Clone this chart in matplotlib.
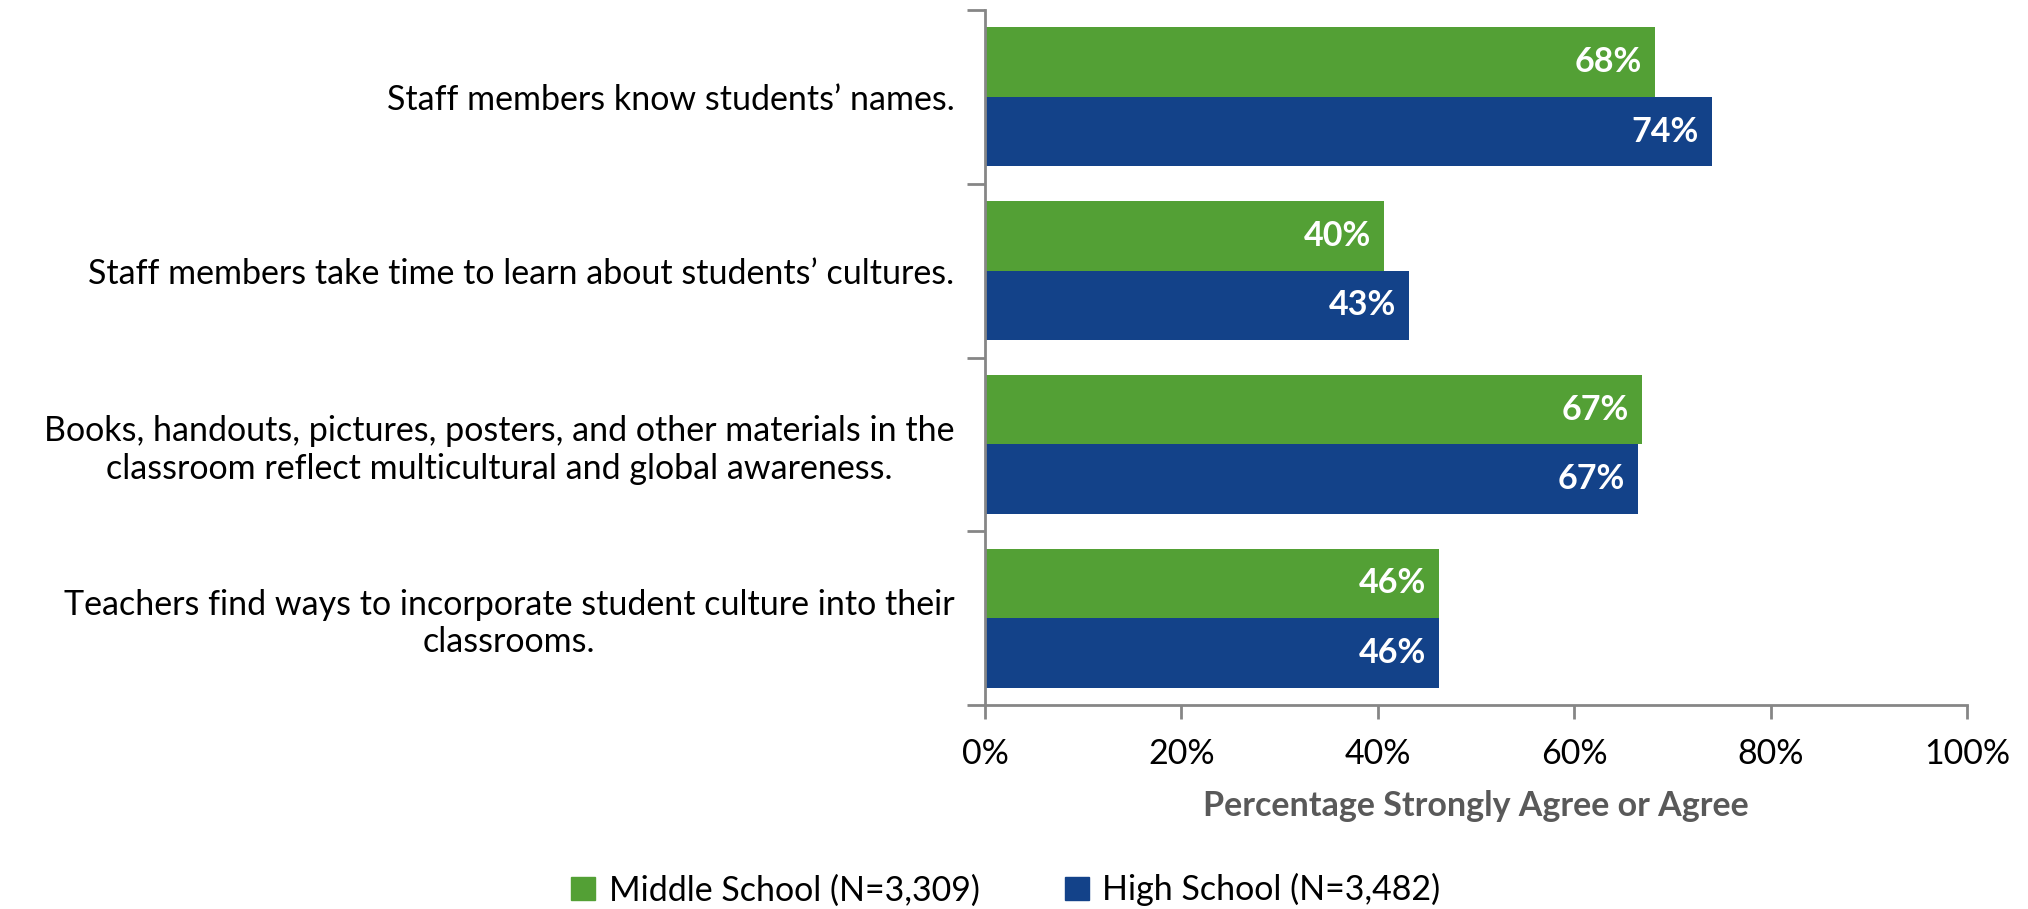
import matplotlib.pyplot as plt
from matplotlib import font_manager
from matplotlib.patches import Patch

names = {f.name for f in font_manager.fontManager.ttflist}
font = 'Liberation Sans Narrow' if 'Liberation Sans Narrow' in names else 'Lato'
plt.rcParams['font.family'] = [font, 'DejaVu Sans']

categories = [
    "Staff members know students\u2019 names.",
    "Staff members take time to learn about students\u2019 cultures.",
    "Books, handouts, pictures, posters, and other materials in the\nclassroom reflect multicultural and global awareness.",
    "Teachers find ways to incorporate student culture into their\nclassrooms.",
]
middle = [68.2, 40.6, 66.9, 46.2]
high = [74.0, 43.2, 66.5, 46.2]
middle_labels = [68, 40, 67, 46]
high_labels = [74, 43, 67, 46]
series_names = ["Middle School (N=3,309)", "High School (N=3,482)"]
green = '#53a035'
blue = '#134289'
axis_gray = '#868686'
fs = 24.5

fig = plt.figure(figsize=(20.28, 9.09), dpi=100)
ax = fig.add_axes([0.4857, 0.2244, 0.4843, 0.7646])

n = len(categories)
ypos = list(range(n))
h = 0.4
ax.barh([y - h / 2 for y in ypos], middle, height=h, color=green, edgecolor='none')
ax.barh([y + h / 2 for y in ypos], high, height=h, color=blue, edgecolor='none')

for y, m, hv, ml, hl in zip(ypos, middle, high, middle_labels, high_labels):
    ax.text(m - 1.3, y - h / 2, f"{ml}%", ha='right', va='center',
            color='white', fontsize=fs, fontweight='bold')
    ax.text(hv - 1.3, y + h / 2, f"{hl}%", ha='right', va='center',
            color='white', fontsize=fs, fontweight='bold')

ax.set_xlim(0, 100)
ax.set_ylim(n - 0.5, -0.5)
ax.set_xticks(range(0, 101, 20))
ax.set_xticklabels([f"{v}%" for v in range(0, 101, 20)], fontsize=fs)
ax.set_yticks([y - 0.5 for y in range(n + 1)])
ax.set_yticklabels([])
ax.set_yticks(ypos, minor=True)
ax.set_yticklabels(categories, minor=True, fontsize=fs, multialignment='center')
ax.tick_params(axis='y', which='minor', length=0, pad=22)
ax.tick_params(axis='y', which='major', length=13, width=2, color=axis_gray)
ax.tick_params(axis='x', length=10, width=2, color=axis_gray, pad=14)

for s in ['top', 'right']:
    ax.spines[s].set_visible(False)
for s in ['left', 'bottom']:
    ax.spines[s].set_color(axis_gray)
    ax.spines[s].set_linewidth(2)

ax.set_xlabel("Percentage Strongly Agree or Agree", fontsize=fs,
              fontweight='bold', color='#595959', labelpad=14)

handles = [Patch(color=green), Patch(color=blue)]
fig.legend(handles, series_names, loc='center', bbox_to_anchor=(0.496, 0.021),
           ncol=2, frameon=False, fontsize=fs, handlelength=0.7, handleheight=0.7,
           handletextpad=0.4, columnspacing=2.5)

fig.savefig('out.png', dpi=100)
